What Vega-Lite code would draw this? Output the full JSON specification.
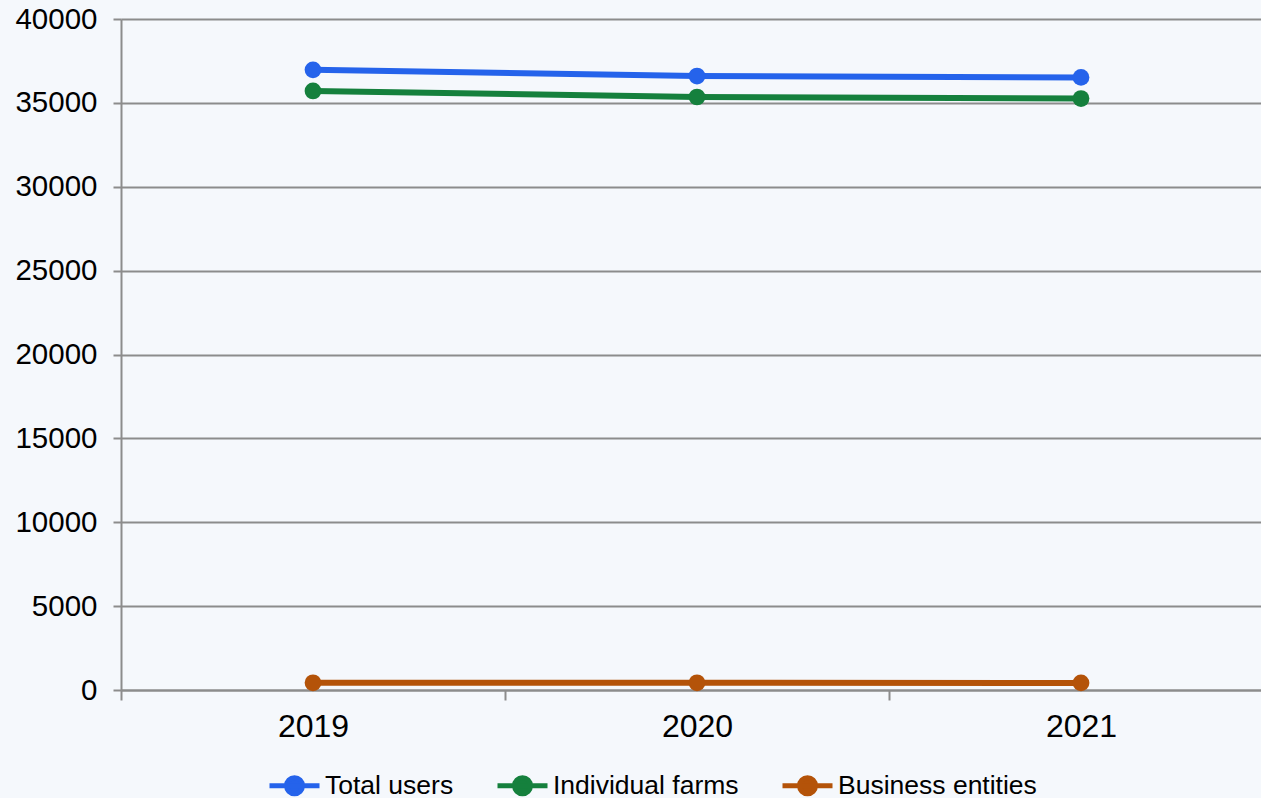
{
  "$schema": "https://vega.github.io/schema/vega-lite/v6.json",
  "autosize": {"type": "none"},
  "padding": {"left": 121, "top": 19, "right": 0, "bottom": 108},
  "width": 1152,
  "height": 671,
  "background": "#f5f8fc",
  "config": {
    "view": {"stroke": null},
    "font": "Liberation Sans"
  },
  "data": {
    "values": [
      {"year": "2019", "series": "Total users", "value": 36970},
      {"year": "2020", "series": "Total users", "value": 36600},
      {"year": "2021", "series": "Total users", "value": 36520},
      {"year": "2019", "series": "Individual farms", "value": 35710},
      {"year": "2020", "series": "Individual farms", "value": 35350},
      {"year": "2021", "series": "Individual farms", "value": 35260},
      {"year": "2019", "series": "Business entities", "value": 430},
      {"year": "2020", "series": "Business entities", "value": 430},
      {"year": "2021", "series": "Business entities", "value": 420}
    ]
  },
  "encoding": {
    "x": {
      "field": "year",
      "type": "ordinal",
      "scale": {"paddingInner": 0, "paddingOuter": 0},
      "axis": {
        "title": null,
        "labelAngle": 0,
        "tickBand": "extent",
        "domain": true,
        "domainColor": "#8c8c8c",
        "domainWidth": 2,
        "tickColor": "#8c8c8c",
        "tickWidth": 2,
        "tickSize": 10,
        "labelFontSize": 32,
        "labelColor": "#000000",
        "labelPadding": 11,
        "grid": false
      }
    },
    "y": {
      "field": "value",
      "type": "quantitative",
      "scale": {"domain": [0, 40000], "nice": false},
      "axis": {
        "title": null,
        "values": [0, 5000, 10000, 15000, 20000, 25000, 30000, 35000, 40000],
        "grid": true,
        "gridColor": "#8c8c8c",
        "gridWidth": 2,
        "domainColor": "#8c8c8c",
        "domainWidth": 2,
        "tickColor": "#8c8c8c",
        "tickWidth": 2,
        "tickSize": 8,
        "labelFontSize": 29.5,
        "labelColor": "#000000",
        "labelPadding": 16,
        "format": "d"
      }
    },
    "color": {
      "field": "series",
      "type": "nominal",
      "sort": ["Total users", "Individual farms", "Business entities"],
      "scale": {
        "domain": ["Total users", "Individual farms", "Business entities"],
        "range": ["#2563eb", "#15803d", "#b45309"]
      },
      "legend": {
        "title": null,
        "orient": "none",
        "direction": "horizontal",
        "legendX": 146,
        "legendY": 739,
        "symbolType": "M-1,0L1,0M-0.32,0A0.32,0.32,0,1,1,0.32,0A0.32,0.32,0,1,1,-0.32,0Z",
        "symbolSize": 2500,
        "symbolStrokeWidth": 4,
        "labelFontSize": 26.5,
        "labelLimit": 400,
        "labelColor": "#000000",
        "labelOffset": 3,
        "columnPadding": 33,
        "encode": {
          "symbols": {
            "update": {
              "fill": {"scale": "color", "field": "value"},
              "stroke": {"scale": "color", "field": "value"},
              "strokeWidth": {"value": 5},
              "opacity": {"value": 1}
            }
          }
        }
      }
    }
  },
  "layer": [
    {"mark": {"type": "line", "strokeWidth": 6}},
    {"mark": {"type": "point", "filled": true, "size": 280, "opacity": 1}}
  ]
}
